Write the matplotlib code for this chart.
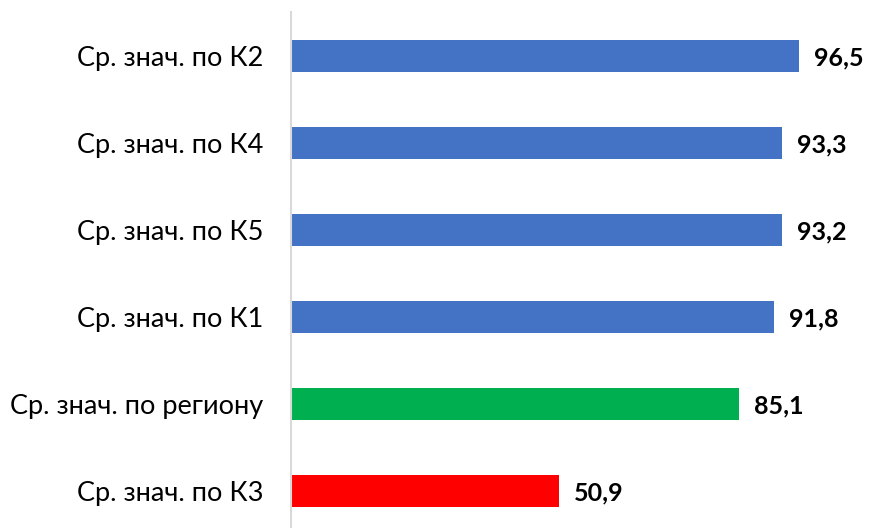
import matplotlib.pyplot as plt

categories = ['Ср. знач. по К2', 'Ср. знач. по К4', 'Ср. знач. по К5',
              'Ср. знач. по К1', 'Ср. знач. по региону', 'Ср. знач. по К3']
values = [96.5, 93.3, 93.2, 91.8, 85.1, 50.9]
labels = ['96,5', '93,3', '93,2', '91,8', '85,1', '50,9']
colors = ['#4472C4', '#4472C4', '#4472C4', '#4472C4', '#00B050', '#FF0000']

plt.rcParams['font.family'] = ['Lato', 'DejaVu Sans']

fig = plt.figure(figsize=(8.71, 5.28), dpi=100)
ax = fig.add_axes([291 / 871, 0, 1 - 291 / 871, 1 - 12 / 528])

y = list(range(len(categories)))[::-1]
ax.barh(y, values, height=0.36, color=colors)

for yi, v, lab in zip(y, values, labels):
    ax.text(v + 2.9, yi - 0.02, lab, va='center', ha='left', fontsize=18,
            fontweight='bold', color='black')

ax.set_xlim(0, 110.2)
ax.set_ylim(-0.425, 5.505)
ax.set_yticks(y)
ax.set_yticklabels(categories, fontsize=19.5, color='black')
ax.tick_params(axis='y', length=0, pad=20)
ax.set_xticks([])

for s in ['top', 'right', 'bottom']:
    ax.spines[s].set_visible(False)
ax.spines['left'].set_color('#D9D9D9')
ax.spines['left'].set_linewidth(1.5)

fig.savefig('out.png', dpi=100)
